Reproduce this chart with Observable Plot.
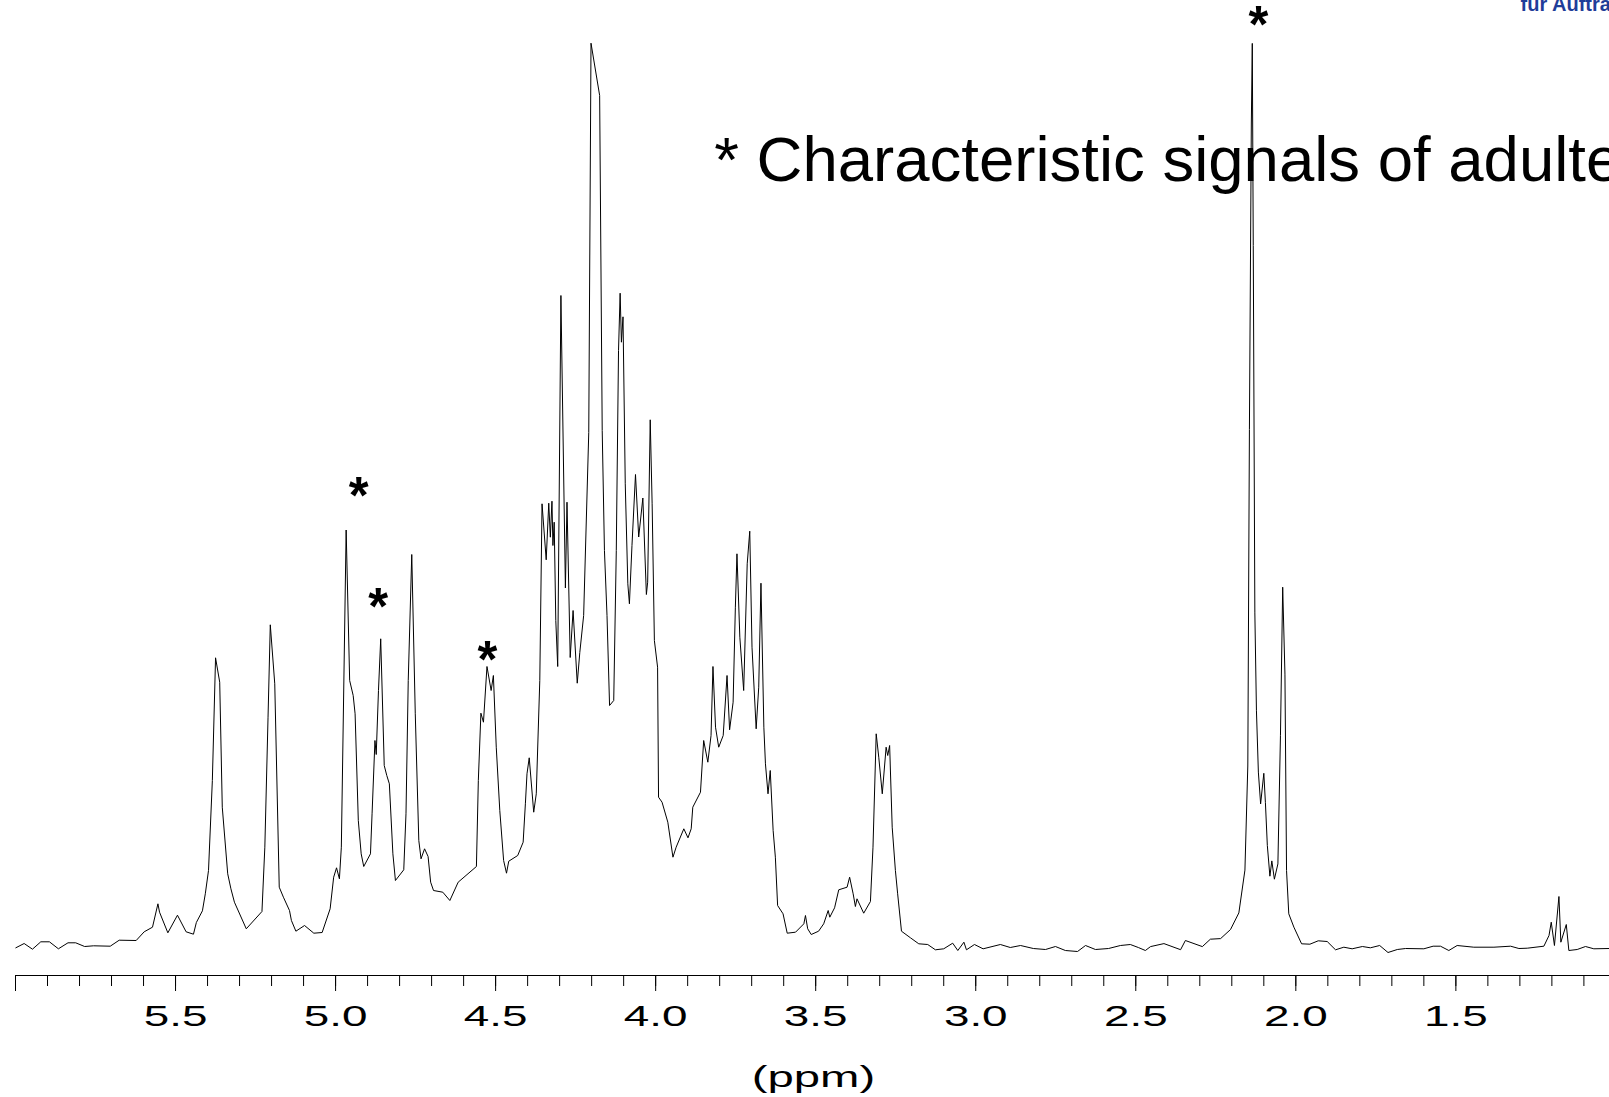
<!DOCTYPE html>
<html>
<head>
<meta charset="utf-8">
<script src="https://cdn.jsdelivr.net/npm/d3@7"></script>
<script src="https://cdn.jsdelivr.net/npm/@observablehq/plot@0.6"></script>
<style>
  html, body { margin: 0; padding: 0; background: #fff; overflow: hidden; }
  #chart svg { display: block; }
</style>
</head>
<body>
<div id="chart"></div>
<script>
// 1H NMR spectrum: [chemical shift (ppm), intensity (arbitrary units)]
const spectrum = [
  [5.999,-2.3],[5.973,2],[5.947,-3.7],[5.921,3.7],[5.894,3.7],[5.866,-3.3],[5.836,2.7],[5.812,2.7],
  [5.784,-1],[5.756,-0.3],[5.704,-0.7],[5.676,5.3],[5.623,5],[5.598,13.7],[5.572,18.3],[5.555,41.7],
  [5.550,33.3],[5.524,12.7],[5.494,30.3],[5.467,13.7],[5.444,11.3],[5.435,23],[5.416,34.7],[5.407,51.7],
  [5.397,75],[5.385,165],[5.375,287.7],[5.362,263.3],[5.354,138.3],[5.337,71.7],[5.327,56.7],[5.316,43.3],
  [5.279,16.7],[5.230,34],[5.221,98.3],[5.211,228.3],[5.204,320.7],[5.190,261.7],[5.176,58.3],[5.163,48.3],
  [5.144,35],[5.138,25],[5.124,14.3],[5.097,20],[5.068,12.3],[5.042,13],[5.017,36.7],[5.006,68.3],
  [4.997,77.7],[4.988,66.7],[4.982,98.3],[4.967,415.5],[4.956,265],[4.945,250],[4.939,231.7],[4.929,125],
  [4.920,91.7],[4.912,79],[4.891,91.7],[4.886,131.7],[4.877,205],[4.873,191],[4.866,255],[4.859,306.7],
  [4.848,180],[4.840,170],[4.832,161.7],[4.821,91.7],[4.813,65],[4.787,75.7],[4.780,131.7],[4.773,265],
  [4.762,391],[4.751,231.7],[4.740,105],[4.733,86.7],[4.722,96.7],[4.711,89],[4.703,63.3],[4.694,55],
  [4.665,53.3],[4.643,45],[4.617,63.3],[4.560,79],[4.554,165],[4.546,232.3],[4.538,223.3],[4.527,279],
  [4.514,255],[4.507,270],[4.498,198.3],[4.487,135],[4.475,85],[4.466,72.3],[4.459,84.3],[4.431,90],
  [4.414,103.3],[4.407,141.7],[4.402,171.7],[4.395,187.7],[4.381,133.3],[4.373,151.7],[4.362,265],[4.355,441.7],
  [4.342,385.7],[4.334,442.3],[4.329,408.3],[4.324,444.3],[4.321,400],[4.317,423.3],[4.312,325],[4.306,279],
  [4.296,650],[4.282,357.5],[4.277,443.3],[4.267,288],[4.258,335],[4.245,262.3],[4.237,293],[4.225,330],
  [4.209,513],[4.202,902.3],[4.175,850],[4.167,515],[4.160,395],[4.152,330],[4.144,240],[4.131,245],
  [4.123,395],[4.116,595],[4.111,652.3],[4.107,603.3],[4.102,628.7],[4.095,461.7],[4.087,361.7],[4.082,341.7],
  [4.074,400],[4.063,471],[4.053,408.5],[4.040,447.5],[4.029,351],[4.025,363.3],[4.017,525.7],[4.011,441.7],
  [4.004,305],[3.994,278.3],[3.991,148.3],[3.980,143.3],[3.962,123.3],[3.946,88.3],[3.936,98.3],[3.912,116.7],
  [3.899,107.7],[3.889,116.7],[3.884,138.3],[3.860,153.3],[3.850,205],[3.837,183.3],[3.827,210],[3.821,279],
  [3.813,218.3],[3.803,198.3],[3.789,210],[3.777,270],[3.769,215.7],[3.758,243.3],[3.751,338.3],[3.746,391.7],
  [3.737,308.3],[3.725,255],[3.714,381.7],[3.706,414.3],[3.699,298.3],[3.686,216.7],[3.678,258.3],[3.671,362.3],
  [3.662,218.3],[3.657,181.7],[3.649,151.7],[3.642,175],[3.633,115],[3.626,88.3],[3.619,40],[3.602,31.7],
  [3.589,12.3],[3.563,13.3],[3.537,21.7],[3.532,30],[3.525,16.7],[3.514,11],[3.491,14.3],[3.475,21.7],
  [3.461,35],[3.456,28.3],[3.441,37.7],[3.428,55.7],[3.402,58.3],[3.394,68.3],[3.383,51.7],[3.376,39],
  [3.371,46.7],[3.350,32.3],[3.329,44],[3.321,98.3],[3.311,211.7],[3.303,188.3],[3.292,151.7],[3.280,198.3],
  [3.275,190],[3.269,200],[3.261,118.3],[3.251,75],[3.244,51.7],[3.232,14.3],[3.204,7.7],[3.178,1.7],
  [3.150,1],[3.126,-4.3],[3.100,-3.3],[3.072,2.3],[3.056,-5],[3.037,3.3],[3.029,-4.3],[3.004,1],
  [2.977,-3.3],[2.923,1],[2.892,-2],[2.860,0],[2.820,-3],[2.782,-4],[2.751,-1],[2.720,-5],
  [2.682,-6],[2.657,0],[2.626,-4],[2.585,-3],[2.548,0],[2.517,1],[2.492,-2],[2.470,-5],
  [2.454,-1.1],[2.412,1.9],[2.360,-4.2],[2.345,5],[2.292,-1.1],[2.267,6.3],[2.235,6.9],[2.204,16],
  [2.178,32.6],[2.159,75.4],[2.150,179.5],[2.145,516],[2.139,822.5],[2.136,902.1],[2.133,700],[2.128,332.6],
  [2.123,234.7],[2.117,173.4],[2.110,141.6],[2.100,172.2],[2.095,142.8],[2.089,100],[2.081,69.3],[2.075,84.6],
  [2.067,66.3],[2.056,81.6],[2.048,210.2],[2.041,358.3],[2.034,271.4],[2.029,75],[2.022,31.7],[2.006,18.3],
  [1.982,1.7],[1.956,1.3],[1.930,4.7],[1.902,4],[1.876,-4.3],[1.850,-1.7],[1.824,-3.3],[1.792,-1],
  [1.767,-2.3],[1.738,0],[1.712,-7],[1.683,-4],[1.657,-3],[1.600,-3.3],[1.571,-0.7],[1.548,-0.7],
  [1.522,-5],[1.496,0],[1.444,-1.7],[1.381,-1.7],[1.329,-0.7],[1.303,-3],[1.277,-2.7],[1.225,-0.7],
  [1.209,10],[1.202,23.3],[1.192,0],[1.178,49],[1.172,3.3],[1.155,21],[1.147,-5],[1.121,-4],
  [1.095,-1],[1.069,-3.3],[1.020,-3]
];

// Axis ticks (ppm)
const majorTicks = [6.0, 5.5, 5.0, 4.5, 4.0, 3.5, 3.0, 2.5, 2.0, 1.5];
const minorTicks = [6.0,5.9,5.8,5.7,5.6,5.5,5.4,5.3,5.2,5.1,5.0,4.9,4.8,4.7,4.6,4.5,4.4,4.3,4.2,4.1,4.0,
  3.9,3.8,3.7,3.6,3.5,3.4,3.3,3.2,3.1,3.0,2.9,2.8,2.7,2.6,2.5,2.4,2.3,2.2,2.1,2.0,1.9,1.8,1.7,1.6,1.5,1.4,1.3,1.2,1.1];
const axisTitle = "(ppm)";

// Characteristic-signal markers (peak shift, height of the marker)
const markerPpm = [4.928, 4.867, 4.526, 2.117];
const markerHeight = [461, 350, 297, 932];

// Annotations
const noteText = "* Characteristic signals of adulteration";
const headerText = "für Auftragsforschung";

const rows = spectrum.map(([ppm, intensity]) => ({ppm, intensity}));
const markers = markerPpm.map((ppm, i) => ({ppm, h: markerHeight[i]}));

const chart = Plot.plot({
  width: 1609,
  height: 1097,
  marginLeft: 15,
  marginRight: 0,
  marginTop: 43,
  marginBottom: 122,
  style: {fontFamily: "'Liberation Sans', Arial, Helvetica, sans-serif", background: "white", color: "black"},
  x: {domain: [6.0, 1.02]},
  y: {domain: [-30, 902], axis: null},
  marks: [
    Plot.ruleY([-30], {stroke: "black", strokeWidth: 1}),
    Plot.axisX(minorTicks, {tickSize: 11, tickFormat: () => "", label: null, stroke: "black"}),
    Plot.axisX(majorTicks, {tickSize: 16, tickPadding: 14, fontSize: 29, label: null, stroke: "black",
      tickFormat: d => d === 6 ? "" : d.toFixed(1)}),
    Plot.text([axisTitle], {x: () => 3.507, text: d => d, frameAnchor: "bottom", lineAnchor: "bottom",
      dy: 111, fontSize: 29, fill: "black"}),
    Plot.line(rows, {x: "ppm", y: "intensity", stroke: "black", strokeWidth: 1}),
    Plot.text(markers, {x: "ppm", y: "h", text: () => "*", fontSize: 51, fontWeight: "bold", fill: "black", dy: 12}),
    Plot.text([noteText], {x: () => 3.817, y: () => 765, text: d => d, textAnchor: "start", lineAnchor: "bottom",
      fontSize: 63.5, fill: "black"}),
    Plot.text([headerText], {x: () => 1.298, y: () => 935, text: d => d, textAnchor: "start", lineAnchor: "bottom",
      fontSize: 20, fontWeight: "bold", fill: "#1f3d99"})
  ]
});

// stretch the axis texts horizontally, as in the original
function stretch(texts, sx) {
  texts.forEach(t => {
    const tr = t.getAttribute("transform");
    if (tr) t.setAttribute("transform", tr + ` scale(${sx},1)`);
    else {
      const x = +t.getAttribute("x") || 0, y = +t.getAttribute("y") || 0;
      t.removeAttribute("x"); t.removeAttribute("y");
      t.setAttribute("transform", `translate(${x},${y}) scale(${sx},1)`);
    }
  });
}
const allTexts = Array.from(chart.querySelectorAll("text"));
stretch(allTexts.filter(t => /^\d\.\d$/.test(t.textContent.trim())), 1.58);
stretch(allTexts.filter(t => t.textContent.trim() === axisTitle), 1.63);

document.getElementById("chart").appendChild(chart);
</script>
</body>
</html>
